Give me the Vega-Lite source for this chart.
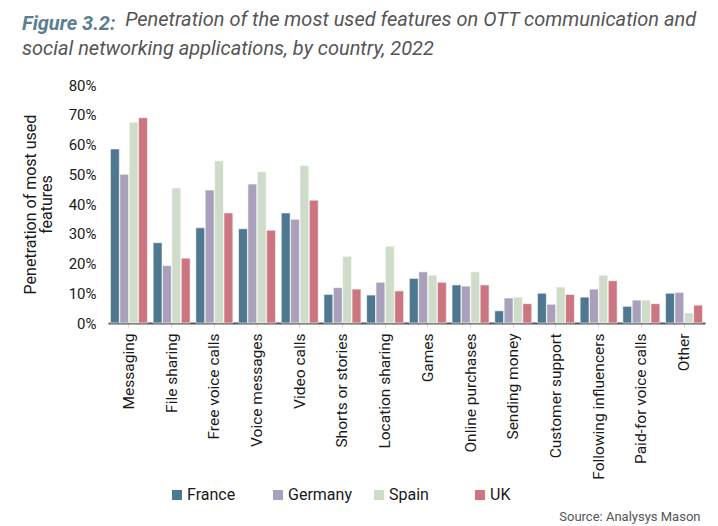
{
  "$schema": "https://vega.github.io/schema/vega-lite/v6.json",
  "width": 597,
  "height": 238,
  "autosize": "none",
  "padding": {"left": 108, "top": 85, "right": 13, "bottom": 203},
  "background": "white",
  "title": {
    "text": "Figure 3.2:",
    "subtitle": ["\u200b\u00a0\u00a0\u00a0\u00a0\u00a0\u00a0\u00a0\u00a0\u00a0\u00a0\u00a0\u00a0\u00a0\u00a0\u00a0\u00a0\u00a0\u00a0\u00a0\u00a0\u00a0Penetration of the most used features on OTT communication and", "social networking applications, by country, 2022"],
    "anchor": "start",
    "frame": "group",
    "dx": -86,
    "offset": 15,
    "font": "Roboto",
    "fontSize": 20,
    "fontWeight": "bold",
    "fontStyle": "italic",
    "color": "#5b7e92",
    "subtitleFont": "Roboto",
    "subtitleFontSize": 20,
    "subtitleFontStyle": "italic",
    "subtitleColor": "#555555",
    "subtitleLineHeight": 29,
    "subtitlePadding": -24
  },
  "data": {
    "values": [
      {"feature": "Messaging", "country": "France", "value": 58.5},
      {"feature": "Messaging", "country": "Germany", "value": 50.0},
      {"feature": "Messaging", "country": "Spain", "value": 67.5},
      {"feature": "Messaging", "country": "UK", "value": 69.0},
      {"feature": "File sharing", "country": "France", "value": 27.0},
      {"feature": "File sharing", "country": "Germany", "value": 19.3},
      {"feature": "File sharing", "country": "Spain", "value": 45.4},
      {"feature": "File sharing", "country": "UK", "value": 21.8},
      {"feature": "Free voice calls", "country": "France", "value": 32.0},
      {"feature": "Free voice calls", "country": "Germany", "value": 44.7},
      {"feature": "Free voice calls", "country": "Spain", "value": 54.5},
      {"feature": "Free voice calls", "country": "UK", "value": 37.0},
      {"feature": "Voice messages", "country": "France", "value": 31.7},
      {"feature": "Voice messages", "country": "Germany", "value": 46.7},
      {"feature": "Voice messages", "country": "Spain", "value": 50.8},
      {"feature": "Voice messages", "country": "UK", "value": 31.2},
      {"feature": "Video calls", "country": "France", "value": 37.0},
      {"feature": "Video calls", "country": "Germany", "value": 34.9},
      {"feature": "Video calls", "country": "Spain", "value": 52.9},
      {"feature": "Video calls", "country": "UK", "value": 41.3},
      {"feature": "Shorts or stories", "country": "France", "value": 9.6},
      {"feature": "Shorts or stories", "country": "Germany", "value": 11.9},
      {"feature": "Shorts or stories", "country": "Spain", "value": 22.4},
      {"feature": "Shorts or stories", "country": "UK", "value": 11.4},
      {"feature": "Location sharing", "country": "France", "value": 9.4},
      {"feature": "Location sharing", "country": "Germany", "value": 13.7},
      {"feature": "Location sharing", "country": "Spain", "value": 25.8},
      {"feature": "Location sharing", "country": "UK", "value": 10.8},
      {"feature": "Games", "country": "France", "value": 15.0},
      {"feature": "Games", "country": "Germany", "value": 17.2},
      {"feature": "Games", "country": "Spain", "value": 16.1},
      {"feature": "Games", "country": "UK", "value": 13.7},
      {"feature": "Online purchases", "country": "France", "value": 12.8},
      {"feature": "Online purchases", "country": "Germany", "value": 12.4},
      {"feature": "Online purchases", "country": "Spain", "value": 17.2},
      {"feature": "Online purchases", "country": "UK", "value": 12.8},
      {"feature": "Sending money", "country": "France", "value": 4.1},
      {"feature": "Sending money", "country": "Germany", "value": 8.4},
      {"feature": "Sending money", "country": "Spain", "value": 8.7},
      {"feature": "Sending money", "country": "UK", "value": 6.5},
      {"feature": "Customer support", "country": "France", "value": 10.0},
      {"feature": "Customer support", "country": "Germany", "value": 6.3},
      {"feature": "Customer support", "country": "Spain", "value": 12.1},
      {"feature": "Customer support", "country": "UK", "value": 9.6},
      {"feature": "Following influencers", "country": "France", "value": 8.7},
      {"feature": "Following influencers", "country": "Germany", "value": 11.4},
      {"feature": "Following influencers", "country": "Spain", "value": 16.1},
      {"feature": "Following influencers", "country": "UK", "value": 14.2},
      {"feature": "Paid-for voice calls", "country": "France", "value": 5.6},
      {"feature": "Paid-for voice calls", "country": "Germany", "value": 7.7},
      {"feature": "Paid-for voice calls", "country": "Spain", "value": 7.7},
      {"feature": "Paid-for voice calls", "country": "UK", "value": 6.5},
      {"feature": "Other", "country": "France", "value": 10.0},
      {"feature": "Other", "country": "Germany", "value": 10.3},
      {"feature": "Other", "country": "Spain", "value": 3.4},
      {"feature": "Other", "country": "UK", "value": 6.0}
    ]
  },
  "mark": {"type": "bar", "stroke": "white", "strokeWidth": 0.6},
  "encoding": {
    "x": {
      "field": "feature",
      "type": "nominal",
      "sort": null,
      "scale": {"paddingInner": 0.133, "paddingOuter": 0.057},
      "axis": {
        "title": "Source: Analysys Mason",
        "titleFont": "Roboto",
        "titleFontSize": 13,
        "titleFontWeight": "normal",
        "titleColor": "#555555",
        "titleAnchor": "end",
        "titleAlign": "right",
        "titleBaseline": "bottom",
        "titleX": 592,
        "titleY": 200,
        "labelAngle": -90,
        "labelFont": "Roboto",
        "labelFontSize": 15.5,
        "labelColor": "#1a1a1a",
        "labelPadding": 6,
        "labelLimit": 200,
        "domainColor": "#555555",
        "domainWidth": 2,
        "ticks": true,
        "tickColor": "#d8d8d8",
        "tickSize": 4
      }
    },
    "xOffset": {
      "field": "country",
      "type": "nominal",
      "scale": {"paddingInner": 0.05}
    },
    "y": {
      "field": "value",
      "type": "quantitative",
      "scale": {"domain": [0, 80]},
      "axis": {
        "title": ["Penetration of most used", "features"],
        "titleFont": "Roboto",
        "titleFontSize": 16,
        "titleFontWeight": "normal",
        "titleColor": "#1a1a1a",
        "titleLineHeight": 16,
        "titlePadding": 14,
        "values": [0, 10, 20, 30, 40, 50, 60, 70, 80],
        "labelExpr": "datum.value + '%'",
        "labelFont": "Roboto",
        "labelFontSize": 15,
        "labelColor": "#1a1a1a",
        "labelPadding": 12,
        "grid": false,
        "domain": false,
        "ticks": false
      }
    },
    "color": {
      "field": "country",
      "type": "nominal",
      "scale": {
        "domain": ["France", "Germany", "Spain", "UK"],
        "range": ["#4e788f", "#a9a1bb", "#cfdcca", "#cc7681"]
      },
      "legend": {
        "title": null,
        "orient": "none",
        "direction": "horizontal",
        "legendX": 61,
        "legendY": 402,
        "symbolType": "square",
        "symbolSize": 100,
        "symbolStrokeWidth": 0,
        "labelFont": "Roboto",
        "labelFontSize": 16,
        "labelColor": "#1a1a1a",
        "labelOffset": 2,
        "columnPadding": 19,
        "gridAlign": "all"
      }
    }
  },
  "config": {"view": {"stroke": null}}
}
